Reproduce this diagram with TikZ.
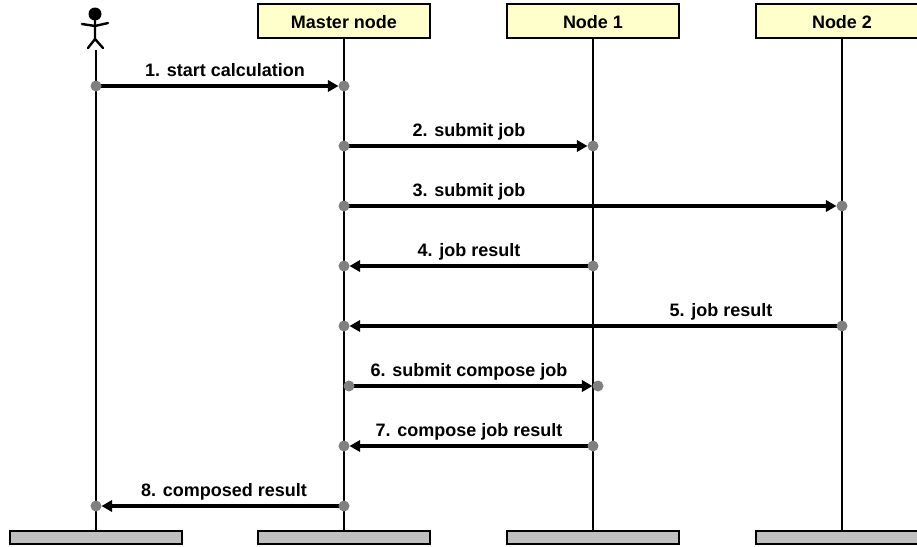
\documentclass[tikz,border=0pt]{standalone}
\usepackage{fontspec}
\setmainfont{Liberation Sans}
\usetikzlibrary{arrows.meta}
\definecolor{headfill}{HTML}{FFFFCC}
\definecolor{footfill}{HTML}{C0C0C0}
\definecolor{dotgray}{HTML}{808080}
\pgfdeclarelayer{msgs}
\pgfsetlayers{msgs,main}
\tikzset{
  x=0.75pt,y=-0.75pt,
  headbox/.style={draw=black,line width=1.8pt,fill=headfill,minimum width=129pt,minimum height=25.5pt,inner sep=0pt,text height=10.5pt,text depth=0pt,font=\fontsize{13.5}{15}\selectfont\bfseries},
  footbox/.style={draw=black,line width=1.8pt,fill=footfill,minimum width=129pt,minimum height=9.5pt,inner sep=0pt},
  lifeline/.style={draw=black,line width=1.8pt},
  msg/.style={draw=black,line width=2.8pt,-{Triangle[length=8pt,width=8.5pt]},shorten <=-2pt},
  dotnode/.style={circle,fill=dotgray,minimum size=8.25pt,inner sep=0pt,outer sep=0pt},
  msglabel/.style={inner sep=0pt,anchor=base,font=\fontsize{13.5}{15}\selectfont\bfseries},
  actorline/.style={draw=black,line width=1.8pt,line cap=round}
}
\begin{document}
\begin{tikzpicture}
\useasboundingbox (0,0) rectangle (917,546);
\clip (0,0) rectangle (917,546);
% heads and feet
\node[headbox] (hm) at (344,21) {Master node};
\node[headbox] (h1) at (593,21) {Node 1};
\node[headbox] (h2) at (842,21) {Node 2};
\coordinate (ha) at (96,50);
\node[footbox] (fa) at (96,537.5) {};
\node[footbox] (fm) at (344,537.5) {};
\node[footbox] (f1) at (593,537.5) {};
\node[footbox] (f2) at (842,537.5) {};
% lifelines
\draw[lifeline] (ha) -- (fa.north);
\draw[lifeline] (hm.south) -- (fm.north);
\draw[lifeline] (h1.south) -- (f1.north);
\draw[lifeline] (h2.south) -- (f2.north);
% actor
\fill (95,14) circle[radius=6.5];
\draw[actorline] (95,20) -- (95,39) (82,24) -- (95,26) -- (108,23) (88,48) -- (95,39) -- (103,48);
% dots
\node[dotnode] (a1) at (96,86) {};
\node[dotnode] (b1) at (344,86) {};
\node[dotnode] (a2) at (344,146) {};
\node[dotnode] (b2) at (593,146) {};
\node[dotnode] (a3) at (344,206) {};
\node[dotnode] (b3) at (842,206) {};
\node[dotnode] (a4) at (593,266) {};
\node[dotnode] (b4) at (344,266) {};
\node[dotnode] (a5) at (842,326) {};
\node[dotnode] (b5) at (344,326) {};
\node[dotnode] (a6) at (349,386) {};
\node[dotnode] (b6) at (598,386) {};
\node[dotnode] (a7) at (593,446) {};
\node[dotnode] (b7) at (344,446) {};
\node[dotnode] (a8) at (344,506) {};
\node[dotnode] (b8) at (96,506) {};
% messages, on a layer beneath the dots
\begin{pgfonlayer}{msgs}
\draw[msg] (a1) -- (b1);
\draw[msg] (a2) -- (b2);
\draw[msg] (a3) -- (b3);
\draw[msg] (a4) -- (b4);
\draw[msg] (a5) -- (b5);
\draw[msg] (a6) -- (b6);
\draw[msg] (a7) -- (b7);
\draw[msg] (a8) -- (b8);
\end{pgfonlayer}
% labels
\node[msglabel] (l1) at (225,76) {1. start calculation};
\node[msglabel] (l2) at (469,136) {2. submit job};
\node[msglabel] (l3) at (469,196) {3. submit job};
\node[msglabel] (l4) at (469,256) {4. job result};
\node[msglabel] (l5) at (721,316) {5. job result};
\node[msglabel] (l6) at (469,376) {6. submit compose job};
\node[msglabel] (l7) at (469,436) {7. compose job result};
\node[msglabel] (l8) at (224,496) {8. composed result};
\end{tikzpicture}
\end{document}
